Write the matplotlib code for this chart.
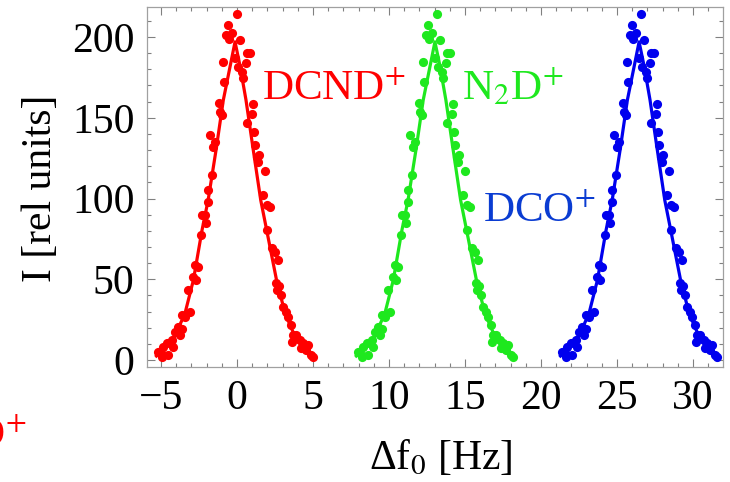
import matplotlib
matplotlib.use('Agg')
import matplotlib.pyplot as plt
from matplotlib.ticker import MultipleLocator

# scan points (the three scans share one intensity pattern)
counts = [5.2, 4.1, 2.1, 8.3, 10.3, 3.1, 12.4, 8.3, 17.5, 20.6, 15.5, 27.9, 19.0,
          26.8, 43.3, 29.8, 51.6, 58.8, 49.5, 57.4, 77.4, 89.8, 89.8, 84.6, 98.0,
          105.3, 139.3, 114.6, 132.1, 135.2, 158.9, 153.7, 151.6, 184.7, 172.3,
          201.2, 207.4, 198.6, 202.3, 186.8, 214.2, 181.6, 198.1, 178.5, 174.4,
          183.7, 189.9, 146.5, 189.9, 152.6, 158.5, 141.4, 133.1, 125.9, 122.8,
          127.0, 102.2, 117.2, 96.0, 80.5, 94.9, 69.2, 67.1, 47.5, 43.3, 61.9,
          45.8, 40.2, 33.0, 29.9, 26.8, 21.7, 11.4, 15.5, 15.5, 12.4, 7.2, 10.3,
          6.2, 9.3, 3.1, 2.1]

dcnd_x = [-5.18, -5.03, -4.96, -4.85, -4.63, -4.52, -4.30, -4.19, -4.08, -3.86,
          -3.75, -3.64, -3.60, -3.42, -3.20, -3.09, -2.87, -2.76, -2.70, -2.54,
          -2.35, -2.30, -2.10, -2.05, -1.93, -1.89, -1.78, -1.67, -1.56, -1.45,
          -1.16, -1.12, -1.01, -0.90, -0.83, -0.72, -0.57, -0.51, -0.35, -0.13,
          -0.02, 0.09, 0.20, 0.31, 0.42, 0.59, 0.64, 0.68, 0.86, 0.97, 1.07, 1.10,
          1.18, 1.34, 1.40, 1.47, 1.73, 1.84, 1.95, 2.00, 2.17, 2.28, 2.50, 2.54,
          2.62, 2.72, 2.76, 2.91, 3.02, 3.24, 3.35, 3.57, 3.62, 3.68, 3.90, 4.12,
          4.23, 4.34, 4.56, 4.67, 4.89, 5.00]

n2d_x = [7.97, 8.12, 8.19, 8.30, 8.52, 8.63, 8.85, 8.96, 9.07, 9.29, 9.40, 9.51,
         9.55, 9.73, 9.95, 10.06, 10.28, 10.39, 10.45, 10.61, 10.80, 10.85, 11.05,
         11.10, 11.22, 11.26, 11.37, 11.48, 11.59, 11.70, 11.99, 12.03, 12.14,
         12.25, 12.32, 12.43, 12.58, 12.64, 12.80, 13.02, 13.13, 13.24, 13.35,
         13.46, 13.57, 13.74, 13.79, 13.83, 14.01, 14.12, 14.22, 14.25, 14.33,
         14.49, 14.55, 14.62, 14.88, 14.99, 15.10, 15.15, 15.32, 15.43, 15.65,
         15.69, 15.77, 15.87, 15.91, 16.06, 16.17, 16.39, 16.50, 16.72, 16.77,
         16.83, 17.05, 17.27, 17.38, 17.49, 17.71, 17.82, 18.04, 18.15]

dco_x = [21.40, 21.55, 21.62, 21.73, 21.95, 22.06, 22.28, 22.39, 22.50, 22.72,
         22.83, 22.94, 22.98, 23.16, 23.38, 23.49, 23.71, 23.82, 23.88, 24.04,
         24.23, 24.28, 24.48, 24.53, 24.65, 24.69, 24.80, 24.91, 25.02, 25.13,
         25.42, 25.46, 25.57, 25.68, 25.75, 25.86, 26.01, 26.07, 26.23, 26.45,
         26.56, 26.67, 26.78, 26.89, 27.00, 27.17, 27.22, 27.26, 27.44, 27.55,
         27.65, 27.68, 27.76, 27.92, 27.98, 28.05, 28.31, 28.42, 28.53, 28.58,
         28.75, 28.86, 29.08, 29.12, 29.20, 29.30, 29.34, 29.49, 29.60, 29.82,
         29.93, 30.15, 30.20, 30.26, 30.48, 30.70, 30.81, 30.92, 31.14, 31.25,
         31.47, 31.58]

# fitted curves, traced point by point
fit_y = [2.5, 4.3, 12.4, 29.0, 49.5, 80.5, 99.0, 130.0, 161.0, 182.0, 197.0,
         182.0, 161.0, 130.0, 99.0, 80.5, 49.5, 29.0, 12.0, 3.0, 2.5]
dcnd_fit_x = [-5.30, -5.07, -4.20, -3.42, -2.87, -2.30, -1.90, -1.38, -0.90,
              -0.45, -0.13, 0.20, 0.59, 1.07, 1.56, 1.95, 2.60, 3.16, 3.93,
              4.90, 5.00]
n2d_fit_x = [7.85, 8.08, 8.95, 9.73, 10.28, 10.85, 11.25, 11.77, 12.25, 12.70,
             13.02, 13.35, 13.74, 14.22, 14.71, 15.10, 15.75, 16.31, 17.08,
             18.05, 18.15]
dco_fit_x = [21.28, 21.51, 22.38, 23.16, 23.71, 24.28, 24.68, 25.20, 25.68,
             26.13, 26.45, 26.78, 27.17, 27.65, 28.14, 28.53, 29.18, 29.74,
             30.51, 31.48, 31.58]

species = ['DCND$^{+}$', 'N$_{2}$D$^{+}$', 'DCO$^{+}$']
colors = ['#ff0000', '#1ee81e', '#0000ee']
text_colors = ['#ff0000', '#1ee81e', '#0a3cd2']
label_pos = [(1.64, 161), (14.8, 161), (16.2, 85.5)]


def do_plot():
    plt.rcParams['font.family'] = 'Liberation Serif'
    plt.rcParams['mathtext.fontset'] = 'stix'

    fig = plt.figure(figsize=(7.3, 4.82), dpi=100)
    ax = fig.add_axes([0.2014, 0.2386, 0.789, 0.747])

    scans = [(dcnd_x, dcnd_fit_x), (n2d_x, n2d_fit_x), (dco_x, dco_fit_x)]
    for (xs, fx), c in zip(scans, colors):
        ax.plot(fx, fit_y, color=c, lw=2.3, zorder=2)
        ax.plot(xs, counts, 'o', color=c, ms=6.6, mec='none', zorder=3)

    for name, tc, (lx, ly) in zip(species, text_colors, label_pos):
        ax.text(lx, ly, name, color=tc, fontsize=31, va='baseline')

    ax.set_xlim(-5.92, 31.97)
    ax.set_ylim(-4.3, 218.6)
    ax.xaxis.set_major_locator(MultipleLocator(5))
    ax.xaxis.set_minor_locator(MultipleLocator(1))
    ax.yaxis.set_major_locator(MultipleLocator(50))
    ax.yaxis.set_minor_locator(MultipleLocator(10))
    ax.tick_params(which='both', direction='in', top=True, right=True,
                   color='#808080', width=0.8)
    ax.tick_params(which='major', length=6, labelsize=30, pad=9)
    ax.tick_params(which='minor', length=3)
    ax.set_xticklabels(['\u22125' if t == -5 else '%d' % t
                        for t in ax.get_xticks()])
    for sp in ax.spines.values():
        sp.set_color('#a0a0a0')
        sp.set_linewidth(0.9)

    fig.text(0.056, 0.61, 'I [rel units]', rotation=90, fontsize=30,
             ha='center', va='center')
    fig.text(0.603, 0.05, '\u0394f$_{0}$ [Hz]', fontsize=30, ha='center',
             va='center')
    # cut-off label from a neighbouring panel
    fig.text(0.036, 0.073, 'DCND$^{+}$', color='#ff0000', fontsize=31,
             ha='right', va='baseline')

    fig.savefig('out.png', dpi=100)


if __name__ == '__main__':
    do_plot()
